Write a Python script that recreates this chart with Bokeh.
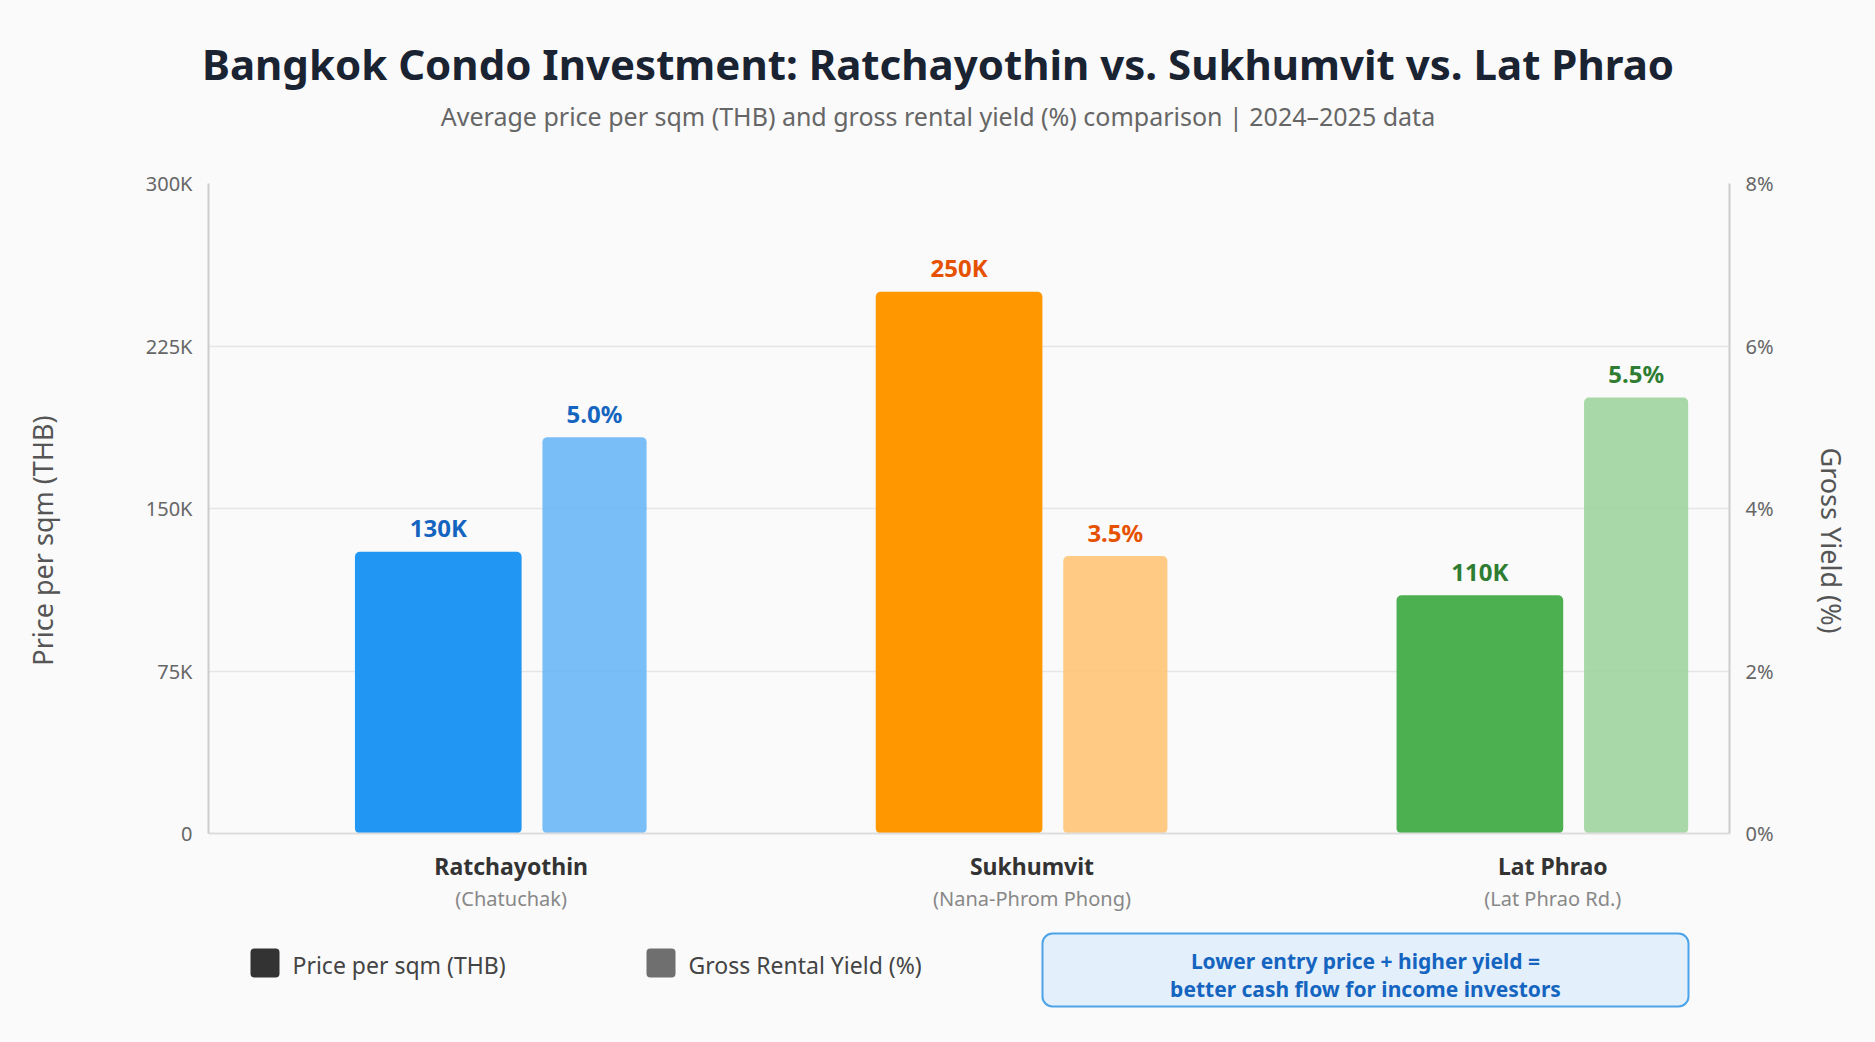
import math
from bokeh.plotting import figure
from bokeh.models import Range1d, LinearAxis, FixedTicker, ColumnDataSource
from bokeh.layouts import column, row
from bokeh.transform import dodge
from bokeh.embed import file_html
from bokeh.resources import INLINE
from bokeh.core.properties import value

# ---------------- data ----------------
districts = ["Ratchayothin", "Sukhumvit", "Lat Phrao"]
subareas = ["(Chatuchak)", "(Nana-Phrom Phong)", "(Lat Phrao Rd.)"]
price_thb = [130000, 250000, 110000]
price_text = ["130K", "250K", "110K"]
yield_pct = [5.0, 3.5, 5.5]
yield_text = ["5.0%", "3.5%", "5.5%"]
price_ticks = [0, 75000, 150000, 225000, 300000]
price_tick_labels = ["0", "75K", "150K", "225K", "300K"]
yield_ticks = [0, 2, 4, 6, 8]
yield_tick_labels = ["0%", "2%", "4%", "6%", "8%"]

title_text = "Bangkok Condo Investment: Ratchayothin vs. Sukhumvit vs. Lat Phrao"
subtitle_text = "Average price per sqm (THB) and gross rental yield (%) comparison | 2024\u20132025 data"
note_lines = ["Lower entry price + higher yield =", "better cash flow for income investors"]
legend_names = ["Price per sqm (THB)", "Gross Rental Yield (%)"]
legend_colors = ["#333333", "#6f6f6f"]
left_axis_title = "Price per sqm (THB)"
right_axis_title = "Gross Yield (%)"

# ---------------- style ----------------
FONT = "Noto Sans"
BG = "#fafafa"
price_colors = ["#2196f3", "#ff9800", "#4caf50"]
yield_colors = ["#6cb7f7", "#fec477", "#9fd49f"]
label_colors = ["#1565c0", "#e65100", "#2e7d32"]
YIELD_MAX = 8.2          # yield scale top (bars in the reference reach this)
TICK_SCALE = YIELD_MAX / 8.0
BGSTYLE = {"background-color": BG}

W, H = 1875, 1042
TOP_H = 150
BOT_H = 122
MID_H = H - TOP_H - BOT_H        # 770
LSTRIP, RSTRIP = 90, 75
MAIN_W = W - LSTRIP - RSTRIP


def blank(width, height):
    f = figure(width=width, height=height, output_backend="svg", toolbar_location=None,
               x_range=Range1d(0, width), y_range=Range1d(height, 0),
               min_border=0, background_fill_color=BG, border_fill_color=BG,
               outline_line_color=None, styles=BGSTYLE)
    f.axis.visible = False
    f.grid.visible = False
    return f


# ---------------- top: titles ----------------
top = blank(W, TOP_H)
top.text(x=[W / 2], y=[63], text=[title_text], text_font=value(FONT), text_font_size="42px",
         text_font_style="bold", text_color="#1a2332", text_align="center",
         text_baseline="middle")
top.text(x=[W / 2], y=[115], text=[subtitle_text], text_font=value(FONT), text_font_size="25px",
         text_color="#666666", text_align="center", text_baseline="middle")

# ---------------- main chart ----------------
src = ColumnDataSource(dict(
    idx=list(range(len(districts))),
    price=price_thb, ptext=price_text, pcolor=price_colors,
    yld=yield_pct, ytext=yield_text, ycolor=yield_colors,
    lcolor=label_colors,
))

p = figure(width=MAIN_W, height=MID_H, output_backend="svg", toolbar_location=None,
           x_range=Range1d(-0.5812, 2.3393), y_range=Range1d(0, 300000),
           min_border_left=208 - LSTRIP, min_border_right=(W - RSTRIP) - 1729,
           min_border_top=183 - TOP_H, min_border_bottom=MID_H - (833 - TOP_H),
           background_fill_color=BG, border_fill_color=BG, outline_line_color=None,
           styles=BGSTYLE)
p.extra_y_ranges = {"yield": Range1d(0, YIELD_MAX)}

p.xgrid.visible = False
p.ygrid.grid_line_color = "#e6e6e6"
p.ygrid.grid_line_width = 1.5
p.ygrid.ticker = FixedTicker(ticks=price_ticks)

ya = p.yaxis[0]
ya.ticker = FixedTicker(ticks=price_ticks)
ya.major_label_overrides = dict(zip(price_ticks, price_tick_labels))
ya.axis_line_color = "#cccccc"
ya.axis_line_width = 2
ya.major_tick_line_color = None
ya.minor_tick_line_color = None
ya.major_tick_out = 0
ya.major_label_standoff = 16
ya.major_label_text_font = FONT
ya.major_label_text_font_size = "20px"
ya.major_label_text_color = "#666666"

yticks_pos = [t * TICK_SCALE for t in yield_ticks]
ra = LinearAxis(y_range_name="yield", ticker=FixedTicker(ticks=yticks_pos),
                major_label_overrides=dict(zip(yticks_pos, yield_tick_labels)))
ra.axis_line_color = "#cccccc"
ra.axis_line_width = 2
ra.major_tick_line_color = None
ra.minor_tick_line_color = None
ra.major_tick_out = 0
ra.major_label_standoff = 16
ra.major_label_text_font = FONT
ra.major_label_text_font_size = "20px"
ra.major_label_text_color = "#666666"
p.add_layout(ra, "right")

xa = p.xaxis[0]
xa.ticker = FixedTicker(ticks=list(range(len(districts))))
xa.major_label_overrides = dict(enumerate(districts))
xa.axis_line_color = "#dddddd"
xa.axis_line_width = 2
xa.major_tick_line_color = None
xa.minor_tick_line_color = None
xa.major_tick_out = 0
xa.major_label_standoff = 16
xa.major_label_text_font = FONT
xa.major_label_text_font_size = "23px"
xa.major_label_text_font_style = "bold"
xa.major_label_text_color = "#333333"

xa2 = LinearAxis(ticker=FixedTicker(ticks=list(range(len(districts)))),
                 major_label_overrides=dict(enumerate(subareas)))
xa2.axis_line_color = None
xa2.major_tick_line_color = None
xa2.minor_tick_line_color = None
xa2.major_tick_out = 0
xa2.major_label_standoff = 0
xa2.major_label_text_font = FONT
xa2.major_label_text_font_size = "20px"
xa2.major_label_text_color = "#888888"
p.add_layout(xa2, "below")

P_OFF, P_W = -0.14, 0.32
Y_OFF, Y_W = 0.16, 0.20
p.vbar(x=dodge("idx", P_OFF, range=p.x_range), top="price", width=P_W, source=src,
       fill_color="pcolor", line_color=None, border_radius=5)
p.vbar(x=dodge("idx", Y_OFF, range=p.x_range), top="yld", width=Y_W, source=src,
       fill_color="ycolor", fill_alpha=0.9, line_color=None, border_radius=5,
       y_range_name="yield")

p.text(x=dodge("idx", P_OFF, range=p.x_range), y="price", text="ptext", source=src,
       text_color="lcolor", text_font=value(FONT), text_font_style="bold",
       text_font_size="24px", text_align="center", text_baseline="middle", y_offset=-24)
p.text(x=dodge("idx", Y_OFF, range=p.x_range), y="yld", text="ytext", source=src,
       text_color="lcolor", text_font=value(FONT), text_font_style="bold",
       text_font_size="24px", text_align="center", text_baseline="middle", y_offset=-24,
       y_range_name="yield")

# axis titles in side strips (y axis of strips points down, so angles are mirrored)
LABEL_Y = 541 - TOP_H + 32
lstrip = blank(LSTRIP, MID_H)
lstrip.text(x=[42], y=[LABEL_Y], text=[left_axis_title], angle=math.pi / 2,
            text_font=value(FONT), text_font_size="27px", text_color="#555555",
            text_align="center", text_baseline="middle")
rstrip = blank(RSTRIP, MID_H)
rstrip.text(x=[1831 - (W - RSTRIP)], y=[LABEL_Y], text=[right_axis_title], angle=-math.pi / 2,
            text_font=value(FONT), text_font_size="27px", text_color="#555555",
            text_align="center", text_baseline="middle")

# ---------------- bottom: legend + note ----------------
bot = blank(W, BOT_H)
Y0 = H - BOT_H
sw_x = [250, 646]
bot.quad(left=sw_x, right=[x + 29 for x in sw_x], top=[948 - Y0] * 2, bottom=[977 - Y0] * 2,
         fill_color=legend_colors, line_color=None, border_radius=4)
bot.text(x=[x + 42 for x in sw_x], y=[964 - Y0] * 2, text=legend_names,
         text_font=value(FONT), text_font_size="23px", text_color="#444444",
         text_align="left", text_baseline="middle")
bot.quad(left=[1042], right=[1688], top=[933 - Y0], bottom=[1006 - Y0],
         fill_color="#e3f0fc", line_color="#4da3e8", line_width=2, border_radius=10)
bot.text(x=[1365, 1365], y=[960 - Y0, 988 - Y0], text=note_lines,
         text_font=value(FONT), text_font_size="21px", text_font_style="bold",
         text_color="#1565c0", text_align="center", text_baseline="middle")

layout = column(top, row(lstrip, p, rstrip, styles=BGSTYLE), bot, styles=BGSTYLE)
open("out.html", "w").write(file_html(layout, INLINE))
